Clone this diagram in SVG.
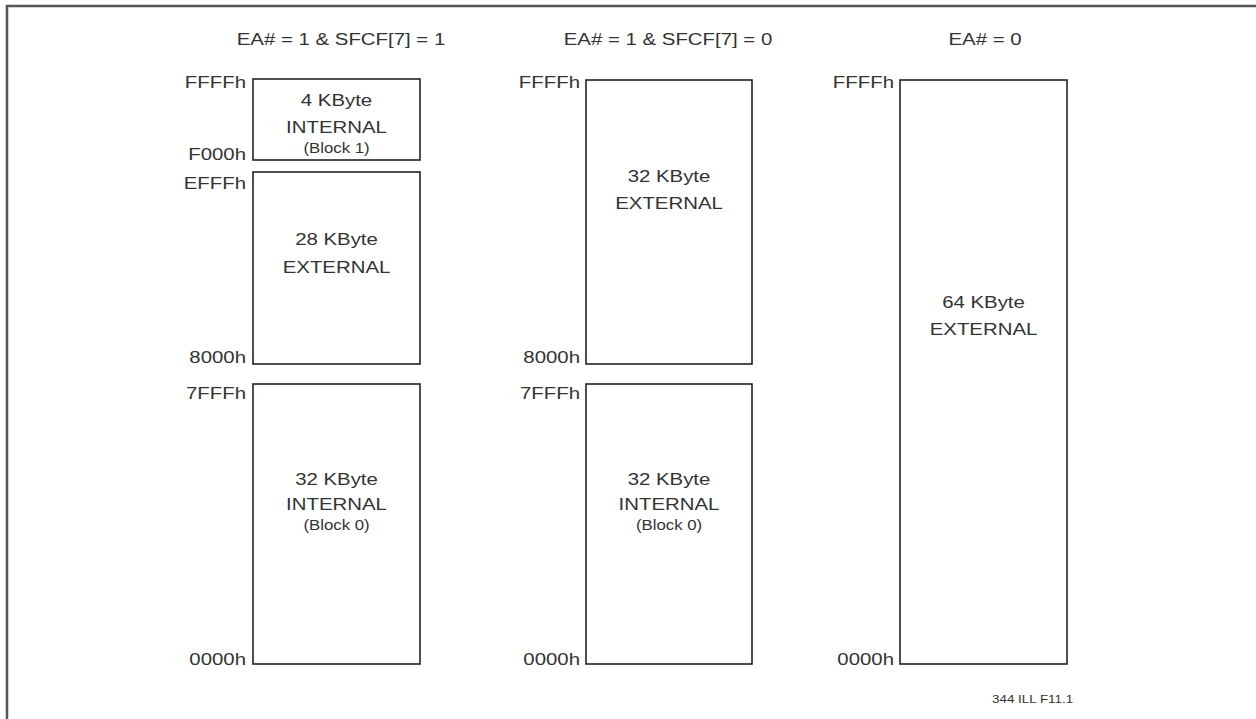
<svg xmlns="http://www.w3.org/2000/svg" width="1256" height="719" viewBox="0 0 1256 719">
<style>
.t{font-family:"Liberation Sans",Arial,sans-serif;fill:#333;}
.h{font-size:17px;text-anchor:middle;}
.a{font-size:17px;text-anchor:end;}
.c{font-size:17px;text-anchor:middle;}
.s{font-size:14px;text-anchor:middle;}
.f{font-size:11px;}
.b{fill:#fff;stroke:#222;stroke-width:1.6;}
</style>
<rect x="0" y="0" width="1256" height="719" fill="#fff"/>
<rect x="7" y="6" width="1260" height="730" fill="none" stroke="#555" stroke-width="2.5"/>
<g id="headings">
<text class="t h" transform="translate(341,45) scale(1.2,1)">EA# = 1 &amp; SFCF[7] = 1</text>
<text class="t h" transform="translate(668,45) scale(1.2,1)">EA# = 1 &amp; SFCF[7] = 0</text>
<text class="t h" transform="translate(985,45) scale(1.2,1)">EA# = 0</text>
</g>
<g id="c1-block1">
<rect class="b" x="253" y="79" width="167" height="81"/>
<text class="t c" transform="translate(336.5,106) scale(1.2,1)">4 KByte</text>
<text class="t c" transform="translate(336.5,133) scale(1.2,1)">INTERNAL</text>
<text class="t s" transform="translate(336.5,153) scale(1.2,1)">(Block 1)</text>
</g>
<g id="c1-ext">
<rect class="b" x="253" y="172" width="167" height="192"/>
<text class="t c" transform="translate(336.5,245) scale(1.2,1)">28 KByte</text>
<text class="t c" transform="translate(336.5,273) scale(1.2,1)">EXTERNAL</text>
</g>
<g id="c1-block0">
<rect class="b" x="253" y="384" width="167" height="280"/>
<text class="t c" transform="translate(336.5,485) scale(1.2,1)">32 KByte</text>
<text class="t c" transform="translate(336.5,510) scale(1.2,1)">INTERNAL</text>
<text class="t s" transform="translate(336.5,530) scale(1.2,1)">(Block 0)</text>
</g>
<g id="c2-ext">
<rect class="b" x="586" y="80" width="166" height="284"/>
<text class="t c" transform="translate(669,182) scale(1.2,1)">32 KByte</text>
<text class="t c" transform="translate(669,209) scale(1.2,1)">EXTERNAL</text>
</g>
<g id="c2-block0">
<rect class="b" x="586" y="384" width="166" height="280"/>
<text class="t c" transform="translate(669,485) scale(1.2,1)">32 KByte</text>
<text class="t c" transform="translate(669,510) scale(1.2,1)">INTERNAL</text>
<text class="t s" transform="translate(669,530) scale(1.2,1)">(Block 0)</text>
</g>
<g id="c3-ext">
<rect class="b" x="900" y="80" width="167" height="584"/>
<text class="t c" transform="translate(983.5,308) scale(1.2,1)">64 KByte</text>
<text class="t c" transform="translate(983.5,335) scale(1.2,1)">EXTERNAL</text>
</g>
<g id="addresses">
<text class="t a" transform="translate(246,88) scale(1.2,1)">FFFFh</text>
<text class="t a" transform="translate(246,160) scale(1.2,1)">F000h</text>
<text class="t a" transform="translate(246,189) scale(1.2,1)">EFFFh</text>
<text class="t a" transform="translate(246,363) scale(1.2,1)">8000h</text>
<text class="t a" transform="translate(246,399) scale(1.2,1)">7FFFh</text>
<text class="t a" transform="translate(246,665) scale(1.2,1)">0000h</text>
<text class="t a" transform="translate(580,88) scale(1.2,1)">FFFFh</text>
<text class="t a" transform="translate(580,363) scale(1.2,1)">8000h</text>
<text class="t a" transform="translate(580,399) scale(1.2,1)">7FFFh</text>
<text class="t a" transform="translate(580,665) scale(1.2,1)">0000h</text>
<text class="t a" transform="translate(894,88) scale(1.2,1)">FFFFh</text>
<text class="t a" transform="translate(894,665) scale(1.2,1)">0000h</text>
</g>
<text class="t f" transform="translate(992,703) scale(1.22,1)">344 ILL F11.1</text>
</svg>
